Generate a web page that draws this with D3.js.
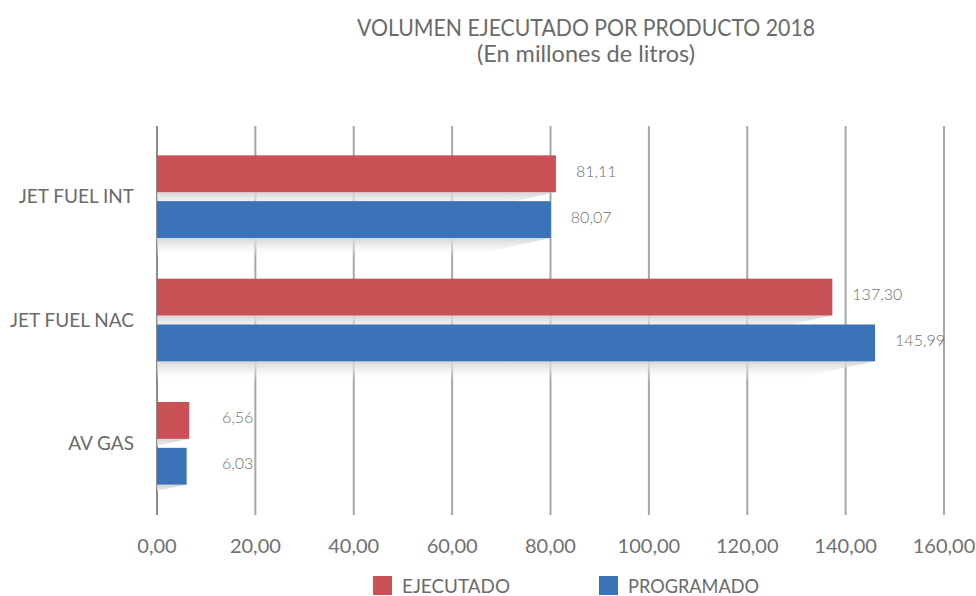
<!DOCTYPE html>
<html>
<head>
<meta charset="utf-8">
<script src="https://cdn.jsdelivr.net/npm/d3@7"></script>
<style>
  body { margin: 0; background: #fff; }
  svg { display: block; font-family: Lato, "Noto Sans", sans-serif; font-weight: 400; }
  .val { font-weight: 300; }
</style>
</head>
<body>
<svg id="chart" width="976" height="596"></svg>
<script>
var categories = ['JET FUEL INT', 'JET FUEL NAC', 'AV GAS'];
var seriesNames = ['EJECUTADO', 'PROGRAMADO'];
var ejecutado  = [81.11, 137.30, 6.56];
var programado = [80.07, 145.99, 6.03];
var ticks = [0, 20, 40, 60, 80, 100, 120, 140, 160];
var colors = ['#c95054', '#3a73b8'];

var svg = d3.select('#chart');
var fmt = function (v) { return v.toFixed(2).replace('.', ','); };

var rows = categories.map(function (c, i) {
  return { cat: c, values: [ejecutado[i], programado[i]] };
});

var x = d3.scaleLinear().domain([0, 160]).range([157, 944]);
var y = d3.scaleBand().domain(categories).range([135, 505])
  .paddingInner(0.33).paddingOuter(0.165);
var ySub = d3.scaleBand().domain(seriesNames).range([0, y.bandwidth()])
  .paddingInner(0.196);

// shadow gradient
var grad = svg.append('defs').append('linearGradient')
  .attr('id', 'shade').attr('x1', 0).attr('x2', 0).attr('y1', 0).attr('y2', 1);
grad.append('stop').attr('offset', '0%').attr('stop-color', '#d4d4d4');
grad.append('stop').attr('offset', '100%').attr('stop-color', '#ffffff').attr('stop-opacity', 0);

// title
svg.append('text').attr('x', 586).attr('y', 36).attr('text-anchor', 'middle')
  .attr('fill', '#6a6a6a').style('font-size', '23px')
  .attr('textLength', 458).attr('lengthAdjust', 'spacingAndGlyphs')
  .text('VOLUMEN EJECUTADO POR PRODUCTO 2018');
svg.append('text').attr('x', 586).attr('y', 62).attr('text-anchor', 'middle')
  .attr('fill', '#6a6a6a').style('font-size', '23px')
  .attr('textLength', 218).attr('lengthAdjust', 'spacingAndGlyphs')
  .text('(En millones de litros)');

// grid
svg.append('g').selectAll('line').data(ticks).enter().append('line')
  .attr('x1', x).attr('x2', x).attr('y1', 126).attr('y2', 515)
  .attr('stroke', function (d) { return d === 0 ? '#8c8c8c' : '#a6a6a6'; })
  .attr('stroke-width', 2);

// x labels
svg.append('g').selectAll('text').data(ticks).enter().append('text')
  .attr('x', x).attr('y', 553).attr('text-anchor', 'middle')
  .attr('fill', '#707070').style('font-size', '20px')
  .text(fmt);

// category labels
svg.append('g').selectAll('text').data(categories).enter().append('text')
  .attr('x', 134).attr('y', function (d) { return y(d) + y.bandwidth() / 2 + 2; })
  .attr('text-anchor', 'end').attr('dominant-baseline', 'middle')
  .attr('fill', '#6a6a6a').style('font-size', '19px')
  .text(function (d) { return d; });

var groups = svg.append('g').selectAll('g').data(rows).enter().append('g')
  .attr('transform', function (d) { return 'translate(0,' + y(d.cat) + ')'; });

var items = function (d) {
  return d.values.map(function (v, i) { return { name: seriesNames[i], v: v, i: i }; });
};

// shadows
groups.selectAll('.shadow').data(items).enter().append('path')
  .attr('class', 'shadow')
  .attr('fill', 'url(#shade)')
  .attr('d', function (d) {
    var yb = ySub(d.name) + ySub.bandwidth();
    var x0 = x(0), x1 = x(d.v), h = 20;
    var xb = Math.max(x0, x1 - 4.6 * h);
    var hb = x1 - 4.6 * h < x0 ? (x1 - x0) / 4.6 : h;
    return 'M' + x0 + ',' + yb + 'L' + x1 + ',' + yb + 'L' + xb + ',' + (yb + hb) +
      'L' + x0 + ',' + (yb + h) + 'Z';
  });

// bars
groups.selectAll('.bar').data(items).enter().append('rect')
  .attr('class', 'bar')
  .attr('x', x(0)).attr('y', function (d) { return ySub(d.name); })
  .attr('width', function (d) { return x(d.v) - x(0); })
  .attr('height', ySub.bandwidth())
  .attr('fill', function (d) { return colors[d.i]; });

// value labels
groups.selectAll('.val').data(items).enter().append('text')
  .attr('class', 'val')
  .attr('x', function (d) { return Math.max(x(d.v) + 20, x(0) + 65); })
  .attr('y', function (d) { return ySub(d.name) + ySub.bandwidth() / 2 - 1; })
  .attr('dominant-baseline', 'middle')
  .attr('fill', '#6f6f6f').style('font-size', '16px')
  .text(function (d) { return fmt(d.v); });

// legend
var legendWidths = [108, 131];
var legend = svg.append('g').selectAll('g').data(seriesNames).enter().append('g')
  .attr('transform', function (d, i) { return 'translate(' + (373 + i * 226) + ',576)'; });
legend.append('rect').attr('width', 19).attr('height', 19)
  .attr('fill', function (d, i) { return colors[i]; });
legend.append('text').attr('x', 29).attr('y', 17)
  .attr('fill', '#6a6a6a').style('font-size', '20px')
  .attr('textLength', function (d, i) { return legendWidths[i]; })
  .attr('lengthAdjust', 'spacingAndGlyphs')
  .text(function (d) { return d; });
</script>
</body>
</html>
